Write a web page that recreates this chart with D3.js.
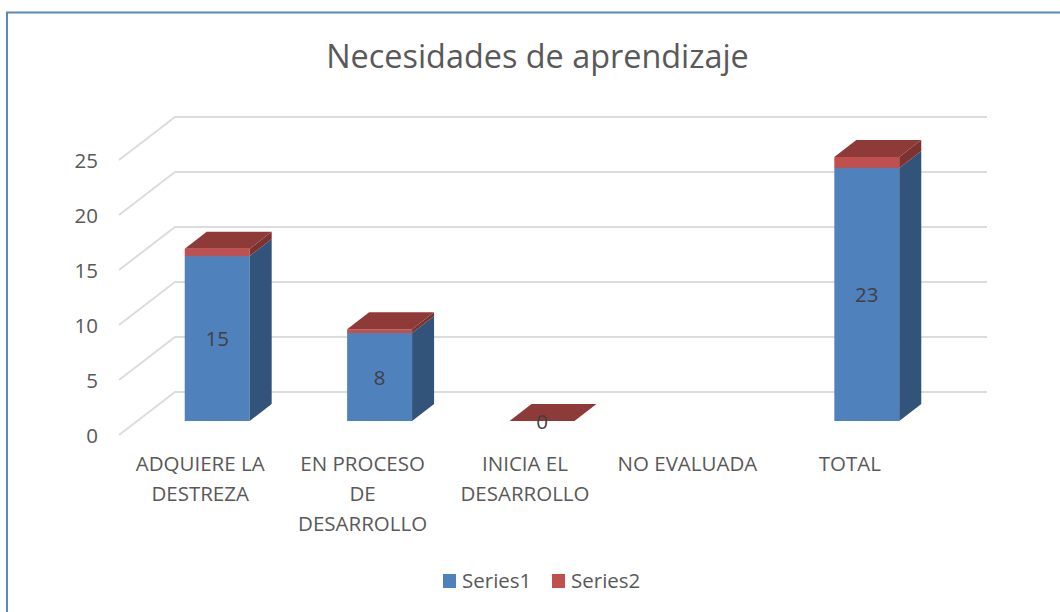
<!DOCTYPE html>
<html>
<head>
<meta charset="utf-8">
<script src="https://cdn.jsdelivr.net/npm/d3@7"></script>
<style>
  html, body { margin: 0; padding: 0; background: #fff; }
  svg { display: block; font-family: "Open Sans", sans-serif; }
</style>
</head>
<body>
<script>
'use strict';

const categories = ["ADQUIERE LA DESTREZA", "EN PROCESO DE DESARROLLO", "INICIA EL DESARROLLO", "NO EVALUADA", "TOTAL"];
const series1 = [15, 8, 0, null, 23];
const series2 = [0.65, 0.35, 0, null, 1];
const yTicks = [0, 5, 10, 15, 20, 25];
const labelLines = [["ADQUIERE LA", "DESTREZA"], ["EN PROCESO", "DE", "DESARROLLO"], ["INICIA EL", "DESARROLLO"], ["NO EVALUADA"], ["TOTAL"]];
const seriesNames = ["Series1", "Series2"];

const colors = {
  blue: "#4f81bd", blueSide: "#32537a",
  red: "#c0504d", redTop: "#8e3a38", redSide: "#7c322f",
  grid: "#dcdcdc", text: "#595959", label: "#404040", frame: "#5b88bf"
};

const svg = d3.select("body").append("svg").attr("width", 1060).attr("height", 612);

// chart frame, open on the right and at the bottom
svg.append("path")
  .attr("d", "M7,612V12.5H1060")
  .attr("fill", "none")
  .attr("stroke", colors.frame)
  .attr("stroke-width", 2);

// title
svg.append("text")
  .attr("x", 537.5).attr("y", 68)
  .attr("text-anchor", "middle")
  .attr("fill", colors.text)
  .style("font-size", "32.4px")
  .text("Necesidades de aprendizaje");

// front plane scales, the back wall is this shifted by depth
const x = d3.scaleBand().domain(categories).range([119, 931]).paddingInner(0.6).paddingOuter(0.3);
const y = d3.scaleLinear().domain([0, 25]).range([435, 160]);
const wallDx = 56, wallDy = -43;   // floor depth
const barDx = 17, barDy = -14;     // where the bars sit on the floor
const depthX = 22, depthY = -17;   // depth of a bar

// gridlines on side wall and back wall
const grid = svg.append("g");
grid.selectAll("path")
  .data(yTicks)
  .enter()
  .append("path")
  .attr("d", d => `M${x.range()[0]},${y(d)}l${wallDx},${wallDy}H${x.range()[1] + wallDx}`)
  .attr("fill", "none")
  .attr("stroke", colors.grid)
  .attr("stroke-width", 2);

// y axis
const yAxis = d3.axisLeft(y).tickValues(yTicks).tickSize(0).tickPadding(21);
svg.append("g")
  .attr("transform", "translate(119,0.5)")
  .call(yAxis)
  .call(g => g.select(".domain").remove())
  .selectAll("text")
  .attr("fill", colors.text)
  .style("font-size", "20.5px")
  .style("font-family", '"Open Sans", sans-serif');

// x labels
const xAxis = svg.append("g");
categories.forEach((c, i) => {
  const t = xAxis.append("text")
    .attr("text-anchor", "middle")
    .attr("fill", colors.text)
    .style("font-size", "20.5px");
  labelLines[i].forEach((line, j) => {
    t.append("tspan")
      .attr("x", x(c) + x.bandwidth() / 2)
      .attr("y", 471 + j * 30)
      .text(line);
  });
});

function poly(points) {
  return points.map(p => p.join(",")).join(" ");
}

// one stack segment: front face, side face and a top if it is the last one
function drawBox(g, left, bottom, top, front, side, roof) {
  const w = x.bandwidth();
  const a = left + barDx, b = a + w;
  const y0 = y(bottom) + barDy, y1 = y(top) + barDy;
  g.append("polygon").attr("points", poly([[a, y0], [b, y0], [b, y1], [a, y1]])).attr("fill", front);
  g.append("polygon").attr("points", poly([[b, y0], [b + depthX, y0 + depthY], [b + depthX, y1 + depthY], [b, y1]])).attr("fill", side);
  if (roof) {
    g.append("polygon").attr("points", poly([[a, y1], [b, y1], [b + depthX, y1 + depthY], [a + depthX, y1 + depthY]])).attr("fill", roof);
  }
}

const bars = svg.append("g");
categories.forEach((c, i) => {
  if (series1[i] === null) return;
  const left = x(c);
  const g = bars.append("g");
  drawBox(g, left, 0, series1[i], colors.blue, colors.blueSide, null);
  drawBox(g, left, series1[i], series1[i] + series2[i], colors.red, colors.redSide, colors.redTop);
  g.append("text")
    .attr("x", left + barDx + x.bandwidth() / 2)
    .attr("y", y(series1[i] / 2) + barDy + 7.5)
    .attr("text-anchor", "middle")
    .attr("fill", colors.label)
    .style("font-size", "20.5px")
    .text(series1[i]);
});

// legend
const legendX = d3.scaleOrdinal().domain(seriesNames).range([443, 552]);
const legend = svg.append("g");
seriesNames.forEach((name, i) => {
  legend.append("rect")
    .attr("x", legendX(name)).attr("y", 574)
    .attr("width", 13).attr("height", 14)
    .attr("fill", i === 0 ? colors.blue : colors.red);
  legend.append("text")
    .attr("x", legendX(name) + 19).attr("y", 588)
    .attr("fill", colors.text)
    .style("font-size", "20.5px")
    .text(name);
});
</script>
</body>
</html>
